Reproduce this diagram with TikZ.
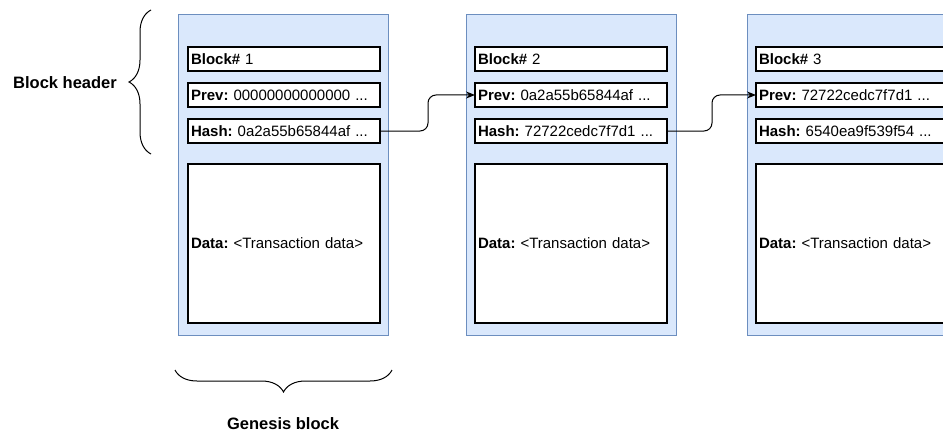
\documentclass[tikz,border=0pt]{standalone}
\usepackage{fontspec}
\setmainfont{Liberation Sans}
\usepackage{tikz}
\usetikzlibrary{arrows.meta,positioning,decorations.pathreplacing}
\definecolor{blkfill}{HTML}{DAE8FC}
\definecolor{blkline}{HTML}{6C8EBF}
\tikzstyle{block}=[draw=blkline,fill=blkfill,line width=1pt,minimum width=210pt,minimum height=320pt,anchor=north west,inner sep=0pt,outer sep=0pt]
\tikzstyle{field}=[draw,fill=white,line width=1.2pt,minimum height=24pt,text width=186pt,inner xsep=3pt,inner ysep=0pt,outer sep=0pt,align=left,font=\fontsize{15}{18}\selectfont\frenchspacing]
\tikzstyle{datafield}=[field,minimum height=159pt]
\tikzstyle{arrow}=[draw,-{Stealth[length=9pt,width=7pt]},line width=1pt,rounded corners=8pt]
\tikzstyle{bracelabel}=[font=\bfseries\fontsize{16.5}{20}\selectfont]
\tikzstyle{curly}=[draw,line width=1pt,decorate,decoration={brace,amplitude=22pt}]

\begin{document}
\begin{tikzpicture}[x=1pt,y=-1pt]
\clip (0,0) rectangle (943,436);
\node [block] (blk1) at (178,15) {};
\node [block] (blk2) at (466,15) {};
\node [block] (blk3) at (747,15) {};

\node [field,below right=32pt and 10pt of blk1.north west] (num1) {\textbf{Block\#} 1};
\node [field,below=12pt of num1] (prev1) {\textbf{Prev:} 00000000000000 ...};
\node [field,below=12pt of prev1] (hash1) {\textbf{Hash:} 0a2a55b65844af ...};
\node [datafield,below=21pt of hash1] (data1) {\textbf{Data:} <Transaction data>};

\node [field,below right=32pt and 9pt of blk2.north west] (num2) {\textbf{Block\#} 2};
\node [field,below=12pt of num2] (prev2) {\textbf{Prev:} 0a2a55b65844af ...};
\node [field,below=12pt of prev2] (hash2) {\textbf{Hash:} 72722cedc7f7d1 ...};
\node [datafield,below=21pt of hash2] (data2) {\textbf{Data:} <Transaction data>};

\node [field,below right=32pt and 9pt of blk3.north west] (num3) {\textbf{Block\#} 3};
\node [field,below=12pt of num3] (prev3) {\textbf{Prev:} 72722cedc7f7d1 ...};
\node [field,below=12pt of prev3] (hash3) {\textbf{Hash:} 6540ea9f539f54 ...};
\node [datafield,below=21pt of hash3] (data3) {\textbf{Data:} <Transaction data>};

\draw [arrow] (hash1.east) -- ++(48,0) |- (prev2.west);
\draw [arrow] (hash2.east) -- ++(45,0) |- (prev3.west);

\coordinate (hdtop) at (151,10);
\coordinate (hdbot) at (151,154);
\draw [curly] (hdbot) -- (hdtop);
\node [bracelabel] (hdlabel) at (65,83) {Block header};

\coordinate (gbl) at (175,370);
\coordinate (gbr) at (392,370);
\draw [curly] (gbr) -- (gbl);
\node [bracelabel] (gblabel) at (283,424) {Genesis block};
\end{tikzpicture}
\end{document}
